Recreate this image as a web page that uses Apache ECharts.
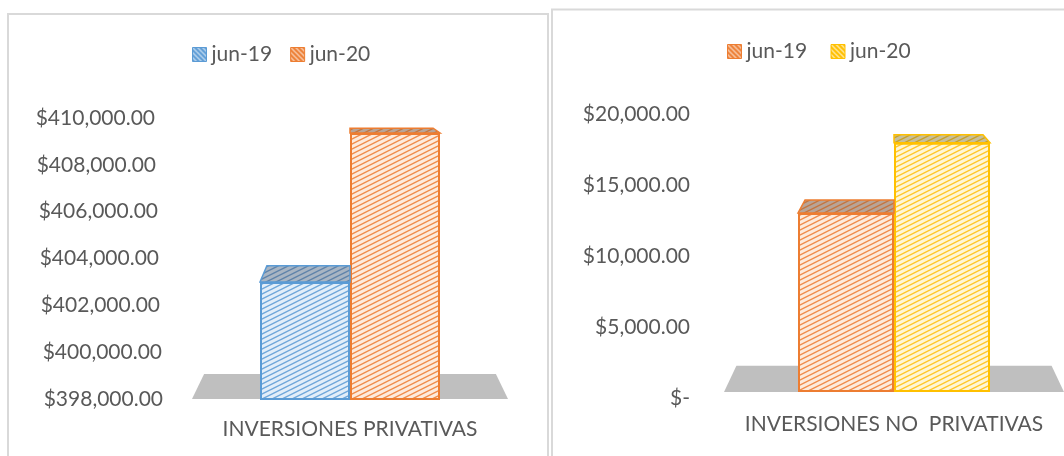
<!DOCTYPE html>
<html>
<head>
<meta charset="utf-8">
<script src="https://cdn.jsdelivr.net/npm/echarts@6/dist/echarts.min.js"></script>
<style>
html,body{margin:0;padding:0;background:#ffffff;}
#chart{width:1064px;height:456px;}
</style>
</head>
<body>
<div id="chart"></div>
<script>
// ---------------- DATA ----------------
const seriesNames = ['jun-19', 'jun-20'];

const leftCategories = ['INVERSIONES PRIVATIVAS'];
const leftJun19 = [403000];
const leftJun20 = [409360];
const leftTicks = [398000, 400000, 402000, 404000, 406000, 408000, 410000];

const rightCategories = ['INVERSIONES NO  PRIVATIVAS'];
const rightJun19 = [12600];
const rightJun20 = [17550];
const rightTicks = [0, 5000, 10000, 15000, 20000];

// ---------------- STYLE HELPERS ----------------
const FONT = 'Lato';
const TXT = '#595959';

function hatch(bg, line, w, h, lw, down) {
  const c = document.createElement('canvas');
  c.width = w; c.height = h;
  const g = c.getContext('2d');
  g.fillStyle = bg; g.fillRect(0, 0, w, h);
  g.strokeStyle = line; g.lineWidth = lw;
  for (let n = -1; n <= 1; n++) {
    g.beginPath();
    if (down) {
      g.moveTo(-1, n * h - h / w); g.lineTo(w + 1, h + n * h + h / w);
    } else {
      g.moveTo(-1, h + n * h + h / w); g.lineTo(w + 1, n * h - h / w);
    }
    g.stroke();
  }
  return { image: c, repeat: 'repeat' };
}

const palette = {
  blue:   { stroke: '#5B9BD5', front: hatch('#E3EEF9', '#6FA6DA', 10, 5, 1.4), top: hatch('#A9B5C3', '#5F83AA', 10, 5, 1.4), legend: hatch('#5B9BD5', '#DDEBF7', 5, 5, 1.2, true) },
  orange: { stroke: '#ED7D31', front: hatch('#FDEBDD', '#F08C4B', 10, 5, 1.4), top: hatch('#B8A497', '#C4763F', 10, 5, 1.4), legend: hatch('#ED7D31', '#FBE5D6', 5, 5, 1.2, true) },
  yellow: { stroke: '#FFC000', front: hatch('#FFF6D6', '#FFC72A', 10, 5, 1.4), top: hatch('#C7BF9C', '#C9A227', 10, 5, 1.4), legend: hatch('#FFC000', '#FFF2CC', 5, 5, 1.2, true) }
};

function money(v) {
  if (v === 0) return '$-';
  return '$' + v.toLocaleString('en-US', { minimumFractionDigits: 2, maximumFractionDigits: 2 });
}

// left axis labels drift slightly (3D side wall): per-label right padding
const leftRich = {};
leftTicks.forEach(function (t, i) { leftRich['d' + i] = { padding: [0, Math.round(i * 8 / (leftTicks.length - 1)), 0, 0] }; });
function leftLabel(v, i) { return '{d' + i + '|' + money(v) + '}'; }

// perspective top face of a bar (custom series)
function topSeries(name, values, gridIdx, col, offsetSign, barW, vy, s) {
  return {
    type: 'custom', name: name, xAxisIndex: gridIdx, yAxisIndex: gridIdx, z: 3,
    data: values.map((v, i) => [i, v]),
    encode: { x: 0, y: 1 },
    silent: true,
    renderItem: function (params, api) {
      const p = api.coord([api.value(0), api.value(1)]);
      const cx = p[0], yt = p[1];
      const x0 = offsetSign < 0 ? cx - barW : cx;
      const x1 = x0 + barW;
      const by = vy + (yt - vy) * s;
      return {
        type: 'polygon',
        shape: { points: [[x0, yt], [x1, yt], [cx + (x1 - cx) * s, by], [cx + (x0 - cx) * s, by]] },
        style: { fill: col.top, stroke: col.stroke, lineWidth: 1.5 }
      };
    }
  };
}

function floorSeries(gridIdx, minVal, vy, s) {
  return {
    type: 'custom', xAxisIndex: gridIdx, yAxisIndex: gridIdx, z: 1, silent: true,
    data: [[0, minVal]],
    encode: { x: 0, y: 1 },
    renderItem: function (params, api) {
      const cs = params.coordSys;
      const p = api.coord([0, api.value(1)]);
      const cx = p[0], fy = p[1];
      const xs = cs.x, xe = cs.x + cs.width;
      const by = vy + (fy - vy) * s;
      return {
        type: 'polygon',
        shape: { points: [[xs, fy], [xe, fy], [cx + (xe - cx) * s, by], [cx + (xs - cx) * s, by]] },
        style: { fill: '#BFBFBF' }
      };
    }
  };
}

function barSeries(name, values, gridIdx, col, barW) {
  return {
    type: 'bar', name: name, xAxisIndex: gridIdx, yAxisIndex: gridIdx, z: 2,
    data: values, barWidth: barW, barGap: '0%',
    itemStyle: { color: col.front, borderColor: col.stroke, borderWidth: 2 },
    emphasis: { disabled: true }
  };
}

const L = { barW: 90, vy: 71, s: 0.9235 };
const R = { barW: 96, vy: 34, s: 0.927 };

const chart = echarts.init(document.getElementById('chart'), null, { renderer: 'canvas' });

const legendCommon = {
  orient: 'horizontal', itemWidth: 14, itemHeight: 14, itemGap: 18, padding: 0,
  textStyle: { color: TXT, fontSize: 21, fontFamily: FONT }, selectedMode: false
};

const option = {
  animation: false,
  textStyle: { fontFamily: FONT },
  graphic: [
    { type: 'rect', z: -10, shape: { x: 8, y: 14, width: 540, height: 500 }, style: { fill: '#ffffff', stroke: '#D9D9D9', lineWidth: 2 } },
    { type: 'rect', z: -10, shape: { x: 552, y: 9.5, width: 600, height: 500 }, style: { fill: '#ffffff', stroke: '#D9D9D9', lineWidth: 2 } }
  ],
  legend: [
    Object.assign({}, legendCommon, {
      left: 192, top: 44,
      data: [
        { name: seriesNames[0], icon: 'rect', itemStyle: { color: palette.blue.legend, borderColor: palette.blue.stroke, borderWidth: 1 } },
        { name: seriesNames[1], icon: 'rect', itemStyle: { color: palette.orange.legend, borderColor: palette.orange.stroke, borderWidth: 1 } }
      ]
    }),
    Object.assign({}, legendCommon, {
      left: 727, top: 41,
      data: [
        { name: seriesNames[0] + ' ', icon: 'rect', itemStyle: { color: palette.orange.legend, borderColor: palette.orange.stroke, borderWidth: 1 } },
        { name: seriesNames[1] + ' ', icon: 'rect', itemStyle: { color: palette.yellow.legend, borderColor: palette.yellow.stroke, borderWidth: 1 } }
      ]
    })
  ],
  grid: [
    { left: 192, right: 556, top: 118, bottom: 57 },
    { left: 724, right: 0, top: 108, bottom: 64 }
  ],
  xAxis: [
    {
      type: 'category', gridIndex: 0, data: leftCategories,
      axisLine: { show: false }, axisTick: { show: false },
      axisLabel: { color: TXT, fontSize: 21, fontFamily: FONT, margin: 20 }
    },
    {
      type: 'category', gridIndex: 1, data: rightCategories,
      axisLine: { show: false }, axisTick: { show: false },
      axisLabel: { color: TXT, fontSize: 21, fontFamily: FONT, margin: 22 }
    }
  ],
  yAxis: [
    {
      type: 'value', gridIndex: 0,
      min: leftTicks[0], max: leftTicks[leftTicks.length - 1], interval: leftTicks[1] - leftTicks[0],
      splitLine: { show: false }, axisLine: { show: false }, axisTick: { show: false },
      axisLabel: { color: TXT, fontSize: 21, fontFamily: FONT, margin: 29, formatter: leftLabel, rich: leftRich }
    },
    {
      type: 'value', gridIndex: 1,
      min: rightTicks[0], max: rightTicks[rightTicks.length - 1], interval: rightTicks[1] - rightTicks[0],
      splitLine: { show: false }, axisLine: { show: false }, axisTick: { show: false },
      axisLabel: { color: TXT, fontSize: 21, fontFamily: FONT, margin: 34, formatter: money, verticalAlign: 'top', lineHeight: 12 }
    }
  ],
  series: [
    floorSeries(0, leftTicks[0], L.vy, L.s),
    barSeries(seriesNames[0], leftJun19, 0, palette.blue, L.barW),
    barSeries(seriesNames[1], leftJun20, 0, palette.orange, L.barW),
    topSeries('top-l-19', leftJun19, 0, palette.blue, -1, L.barW, L.vy, L.s),
    topSeries('top-l-20', leftJun20, 0, palette.orange, 1, L.barW, L.vy, L.s),

    floorSeries(1, rightTicks[0], R.vy, R.s),
    barSeries(seriesNames[0] + ' ', rightJun19, 1, palette.orange, R.barW),
    barSeries(seriesNames[1] + ' ', rightJun20, 1, palette.yellow, R.barW),
    topSeries('top-r-19', rightJun19, 1, palette.orange, -1, R.barW, R.vy, R.s),
    topSeries('top-r-20', rightJun20, 1, palette.yellow, 1, R.barW, R.vy, R.s)
  ]
};

chart.setOption(option);
</script>
</body>
</html>
